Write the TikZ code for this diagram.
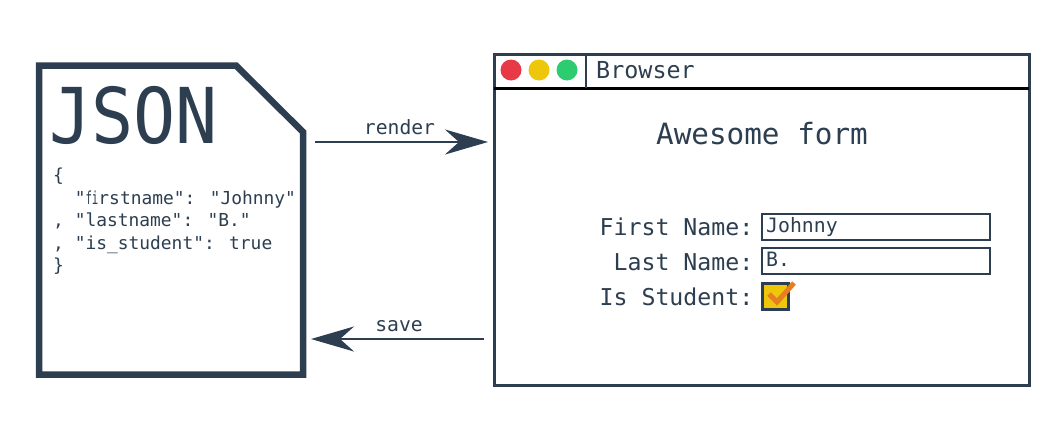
\documentclass[tikz,border=0pt]{standalone}
\usepackage{fontspec}
\usetikzlibrary{arrows.meta}
\newfontfamily\monofamily{DejaVu Sans Mono}
\definecolor{midnight}{RGB}{44, 62, 80}
\definecolor{dotred}{RGB}{232, 57, 70}
\definecolor{dotyellow}{RGB}{238, 199, 10}
\definecolor{dotgreen}{RGB}{46, 204, 113}
\definecolor{carrot}{RGB}{230, 126, 34}
\tikzset{
    monotext/.style={inner sep=0pt, text=midnight, font=\monofamily\fontsize{#1}{#1}\selectfont},
    formfield/.style={draw=midnight, line width=2.2pt, fill=white, anchor=north west, minimum width=228pt, minimum height=26pt, inner sep=0pt},
    flowarrow/.style={draw=midnight, line width=2.4pt, -{Stealth[length=43pt, width=25pt, inset=14pt]}},
    flowlabel/.style={monotext=19.7, midway, above=6pt},
    dot/.style={circle, inner sep=0pt, minimum size=21pt}
}

\begin{document}
\begin{tikzpicture}[x=1pt, y=-1pt]
    \useasboundingbox (0,0) rectangle (1052,440);
    % json file
    \draw[midnight, line width=6.5pt, miter limit=10] (39,65.5) -- (236,65.5) -- (303,132) -- (303,374.5) -- (39,374.5) -- cycle;
    \node[monotext=70, anchor=base west]  (jsontitle) at (49,143)  {\scalebox{1}[1.1]{JSON}};
    \node[monotext=17.9, anchor=north west, align=left, text depth=0pt] (jsoncode) at (53,168) {%
        \{\\[4.6pt]
        \ \ "\scalebox{0.6}[1]{fi}rstname": "Johnny"\\[4.6pt]
        , "lastname": "B."\\[4.6pt]
        , "is\_student": true\\[4.6pt]
        \}};
    % browser window
    \node[draw=midnight, line width=3pt, minimum width=535pt, minimum height=331pt, inner sep=0pt] (browser) at (761.5,219.5) {};
    \coordinate (barleft)  at (494,88);
    \coordinate (barright) at (1029,88);
    \coordinate (bartop)   at (586,54);
    \coordinate (barfoot)  at (586,88);
    \draw[black, line width=3pt] (barleft) -- (barright);
    \draw[midnight, line width=2.5pt] (bartop) -- (barfoot);
    \node[dot, fill=dotred]    (closedot) at (511,70) {};
    \node[dot, fill=dotyellow] (mindot)   at (539,70) {};
    \node[dot, fill=dotgreen]  (maxdot)   at (567,70) {};
    \node[monotext=23.4, anchor=base west] (browsertitle) at (596,78) {Browser};
    \node[monotext=29.3, anchor=base]      (formtitle)    at (762,144) {Awesome form};
    % form
    \node[monotext=23.2, anchor=base east] (firstlabel)   at (753.5,235) {First Name:};
    \node[monotext=23.2, anchor=base east] (lastlabel)    at (753.5,270) {Last Name:};
    \node[monotext=23.2, anchor=base east] (studentlabel) at (753.5,305) {Is Student:};
    \node[formfield] (firstfield) at (761,213) {};
    \node[formfield] (lastfield)  at (761,247) {};
    \node[monotext=19.8, anchor=base west] (firstvalue) at (766,232) {Johnny};
    \node[monotext=19.8, anchor=base west] (lastvalue)  at (766,266) {B.};
    \node[draw=midnight, line width=3pt, fill=dotyellow, anchor=north west, minimum size=26pt, inner sep=0pt] (studentbox) at (761,282) {};
    \draw[carrot, line width=5pt] (769,294) -- (777,302) -- (794,283);
    % arrows
    \coordinate (renderfrom) at (315,142);
    \coordinate (renderto)   at (488,142);
    \coordinate (savefrom)   at (484,339);
    \coordinate (saveto)     at (311,339);
    \draw[flowarrow] (renderfrom) -- node[flowlabel, xshift=-2pt] (renderlabel) {render} (renderto);
    \draw[flowarrow] (savefrom) -- node[flowlabel, xshift=1.5pt] (savelabel) {save} (saveto);
\end{tikzpicture}
\end{document}
